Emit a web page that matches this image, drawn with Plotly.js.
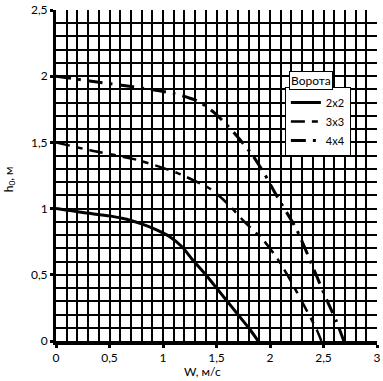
<!DOCTYPE html>
<html>
<head>
<meta charset="utf-8">
<script src="https://cdn.plot.ly/plotly-3.0.1.min.js"></script>
<style>html,body{margin:0;padding:0;background:#fff;}#chart{width:383px;height:381px;}</style>
</head>
<body>
<div id="chart"></div>
<script>
// Data
const seriesNames = ["2x2", "3x3", "4x4"];
const w2x2 = [0, 0.25, 0.5, 0.66, 0.8, 0.94, 1.06, 1.18, 1.28, 1.4, 1.5, 1.6, 1.7, 1.8, 1.89];
const h2x2 = [1.0, 0.97, 0.945, 0.92, 0.885, 0.84, 0.79, 0.71, 0.61, 0.5, 0.4, 0.3, 0.2, 0.1, 0.0];
const w3x3 = [0, 0.32, 0.75, 1.13, 1.44, 1.6, 1.75, 1.94, 2.07, 2.19, 2.31, 2.44, 2.48];
const h3x3 = [1.5, 1.44, 1.37, 1.27, 1.15, 1.04, 0.91, 0.76, 0.62, 0.46, 0.28, 0.08, 0.0];
const w4x4 = [0, 0.35, 0.72, 1.1, 1.33, 1.47, 1.6, 1.72, 1.84, 1.95, 2.06, 2.25, 2.4, 2.53, 2.62, 2.69];
const h4x4 = [2.0, 1.96, 1.92, 1.87, 1.81, 1.73, 1.63, 1.52, 1.4, 1.26, 1.1, 0.84, 0.56, 0.31, 0.15, 0.0];
const xTickVals = [0, 0.5, 1, 1.5, 2, 2.5, 3];
const yTickVals = [0, 0.5, 1, 1.5, 2, 2.5];
const legendTitle = "Ворота";
const xTitle = "W, м/с";
const yTitle = "h<sub>0</sub>, м";

const FONT = "Lato, 'Noto Sans', sans-serif";

const traces = [
  {x: w2x2, y: h2x2, name: seriesNames[0], mode: "lines", line: {color: "#000", width: 3, shape: "spline", smoothing: 0.6}},
  {x: w3x3, y: h3x3, name: seriesNames[1], mode: "lines", line: {color: "#000", width: 2.5, dash: "14px,7px,6px,7px", shape: "spline", smoothing: 0.6}},
  {x: w4x4, y: h4x4, name: seriesNames[2], mode: "lines", line: {color: "#000", width: 3, dash: "15px,7px,3px,7px", shape: "spline", smoothing: 0.6}}
];

const axisCommon = {
  showline: true, linecolor: "#000", zeroline: false,
  showgrid: true, gridcolor: "#000", gridwidth: 2,
  ticks: "outside", ticklen: 3, tickwidth: 3, tickcolor: "#000",
  tickfont: {family: FONT, size: 12, color: "#000"},
  minor: {dtick: 0.1, showgrid: true, gridcolor: "#000", gridwidth: 2, ticks: ""},
  fixedrange: true
};

const layout = {
  width: 383, height: 381,
  margin: {l: 56, r: 6, t: 10, b: 40},
  paper_bgcolor: "#fff", plot_bgcolor: "#fff",
  separators: ", ",
  font: {family: FONT, color: "#000"},
  showlegend: true,
  legend: {
    x: 0.713, y: 0.767, xanchor: "left", yanchor: "top",
    bgcolor: "#fff", bordercolor: "#000", borderwidth: 1,
    font: {family: FONT, size: 11, color: "#000"},
    tracegroupgap: 0, itemwidth: 30
  },
  xaxis: Object.assign({}, axisCommon, {range: [0, 3], tickvals: xTickVals, linewidth: 4}),
  yaxis: Object.assign({}, axisCommon, {range: [0, 2.5], tickvals: yTickVals, linewidth: 3}),
  annotations: [
    {text: legendTitle, xref: "paper", yref: "paper", x: 0.793, y: 0.787, xanchor: "center", yanchor: "middle",
     showarrow: false, bgcolor: "#fff", bordercolor: "#000", borderwidth: 1, borderpad: 1,
     font: {family: FONT, size: 12, color: "#000"}},
    {text: xTitle, xref: "paper", yref: "paper", x: (202 - 56) / 321, y: -0.093, xanchor: "center", yanchor: "middle",
     showarrow: false, font: {family: FONT, size: 12, color: "#000"}},
    {text: yTitle, xref: "paper", yref: "paper", x: -0.145, y: 0.49, xanchor: "center", yanchor: "middle",
     textangle: -90, showarrow: false, font: {family: FONT, size: 12, color: "#000"}}
  ]
};

Plotly.newPlot("chart", traces, layout, {displayModeBar: false});
</script>
</body>
</html>
